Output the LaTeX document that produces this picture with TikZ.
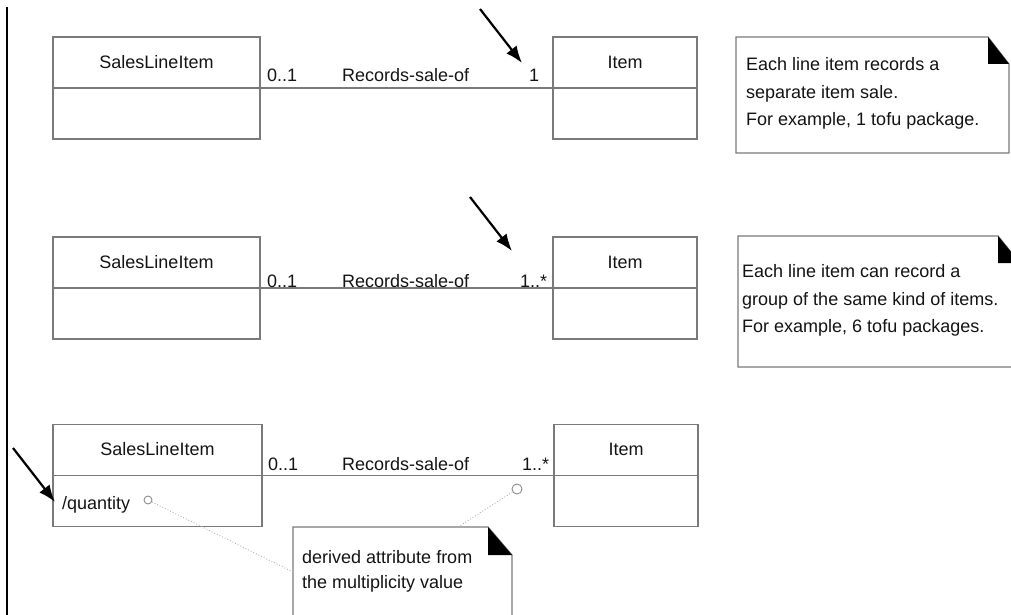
\documentclass[tikz,border=0pt]{standalone}
\usepackage{fontspec}
\setmainfont{Liberation Sans}
\usetikzlibrary{arrows.meta}
\definecolor{boxgray}{HTML}{7A7A7A}
\definecolor{txt}{HTML}{141414}
\definecolor{dotgray}{HTML}{B0B0B0}
\begin{document}
\begin{tikzpicture}[x=1pt,y=-1pt,
  cls/.style={draw=boxgray, line width=1.3pt, rectangle, minimum width=207pt,
              minimum height=102pt, inner sep=0pt},
  itm/.style={cls, minimum width=144pt},
  nm/.style={font=\fontsize{18}{20}\selectfont, text=txt, inner sep=0pt},
  lbl/.style={nm, anchor=base west},
  notetxt/.style={nm, anchor=north west, align=left,
                  font=\fontsize{18}{27.5}\selectfont},
  noteline/.style={draw=boxgray, line width=1.2pt, fill=white},
  fold/.style={fill=black},
  pointer/.style={draw=black, line width=2.2pt, -{Latex[length=17pt,width=13pt]}},
  dotlink/.style={draw=dotgray, line width=0.9pt, dotted},
  port/.style={circle, draw=dotgray!80!black, fill=white, line width=0.9pt,
               inner sep=0pt}
]
\useasboundingbox (0,0) rectangle (1011,615);
\clip (0,0) rectangle (1011,615);

% margin rule on the left
\coordinate (ruletop) at (7,7);
\coordinate (rulebot) at (7,615);
\draw[black, line width=2.6pt] (ruletop) -- (rulebot);

% ---------- first association: 0..1 to 1 ----------
\node[cls] (s1) at (156.5,88) {};
\node[itm] (i1) at (625,88) {};
\draw[boxgray, line width=1.3pt] (s1.west) -- (s1.east);
\draw[boxgray, line width=1.3pt] (i1.west) -- (i1.east);
\draw[boxgray, line width=1.3pt] (s1.east) -- (i1.west);
\node[nm] (s1name) at (156.5,62.5) {SalesLineItem};
\node[nm] (i1name) at (625,62.5) {Item};
\node[lbl] (m1a) at (267,82) {0..1};
\node[lbl] (r1) at (342,82) {Records-sale-of};
\node[lbl] (m1b) at (529,82) {1};

\path[noteline] (736,37) -- (988,37) -- (1009,64) -- (1009,153) -- (736,153) -- cycle;
\path[fold] (988,37) -- (988,64) -- (1009,64) -- cycle;
\node[notetxt] (note1) at (746,57.5) {Each line item records a\\separate item sale.\\For example, 1 tofu package.};

\coordinate (p1s) at (480,9);
\coordinate (p1e) at (522,63);
\draw[pointer] (p1s) -- (p1e);

% ---------- second association: 0..1 to 1..* ----------
\node[cls] (s2) at (156.5,288) {};
\node[itm] (i2) at (625,288) {};
\draw[boxgray, line width=1.3pt] (s2.west) -- (s2.east);
\draw[boxgray, line width=1.3pt] (i2.west) -- (i2.east);
\draw[boxgray, line width=1.3pt] (s2.east) -- (i2.west);
\node[nm] (s2name) at (156.5,262.5) {SalesLineItem};
\node[nm] (i2name) at (625,262.5) {Item};
\node[lbl] (m2a) at (267,287) {0..1};
\node[lbl] (r2) at (342,287) {Records-sale-of};
\node[lbl] (m2b) at (520,287) {1..*};

\path[noteline] (738,236) -- (998,236) -- (1020,263) -- (1020,367) -- (738,367) -- cycle;
\path[fold] (998,236) -- (998,263) -- (1020,263) -- cycle;
\node[notetxt] (note2) at (742,264.5) {Each line item can record a\\group of the same kind of items.\\For example, 6 tofu packages.};

\coordinate (p2s) at (470,197);
\coordinate (p2e) at (512,251);
\draw[pointer] (p2s) -- (p2e);

% ---------- third association with derived attribute ----------
\node[cls, minimum width=209pt] (s3) at (157.5,475.5) {};
\node[itm] (i3) at (626,475.5) {};
\draw[boxgray, line width=1.3pt] (s3.west) -- (s3.east);
\draw[boxgray, line width=1.3pt] (i3.west) -- (i3.east);
\draw[boxgray, line width=1.3pt] (s3.east) -- (i3.west);
\node[nm] (s3name) at (157.5,449.5) {SalesLineItem};
\node[nm] (i3name) at (626,449.5) {Item};
\node[lbl] (attr) at (62,509) {/quantity};
\node[lbl] (m3a) at (268,470) {0..1};
\node[lbl] (r3) at (342,470) {Records-sale-of};
\node[lbl] (m3b) at (522,470) {1..*};

\path[noteline] (293,527) -- (488,527) -- (512,555) -- (512,640) -- (293,640) -- cycle;
\path[fold] (488,527) -- (488,555) -- (512,555) -- cycle;
\node[notetxt, font=\fontsize{18}{25.5}\selectfont] (note3) at (302,550) {derived attribute from\\the multiplicity value};

\node[port, minimum size=8pt] (c1) at (148,500) {};
\node[port, minimum size=10pt] (c2) at (517,489) {};
\coordinate (n3w) at (293,572);
\coordinate (n3t) at (458,527);
\draw[dotlink] (c1) -- (n3w);
\draw[dotlink] (c2) -- (n3t);

\coordinate (p3s) at (13,448);
\coordinate (p3e) at (55,502);
\draw[pointer] (p3s) -- (p3e);
\end{tikzpicture}
\end{document}
